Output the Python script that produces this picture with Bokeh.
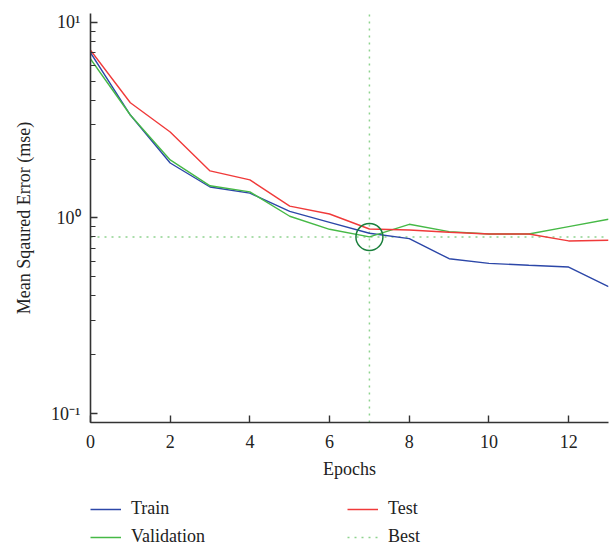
from bokeh.plotting import figure
from bokeh.layouts import column
from bokeh.models import (Range1d, Legend, LegendItem, CustomJSTickFormatter,
                          FixedTicker, LogTicker)
from bokeh.embed import file_html
from bokeh.resources import INLINE

epochs = list(range(14))
train = [7.0, 3.36, 1.91, 1.44, 1.34, 1.08, 0.95, 0.835, 0.784, 0.619, 0.586, 0.573, 0.561, 0.445]
validation = [6.5, 3.36, 1.98, 1.46, 1.36, 1.02, 0.875, 0.80, 0.928, 0.851, 0.828, 0.828, 0.903, 0.985]
test = [7.2, 3.88, 2.75, 1.74, 1.565, 1.15, 1.048, 0.878, 0.868, 0.845, 0.828, 0.828, 0.763, 0.769]
best_epoch = 7
best_value = 0.80
x_ticks = [0, 2, 4, 6, 8, 10, 12]
series_names = ["Train", "Validation", "Test", "Best"]

FONT = "Liberation Serif"

c_train = "#2c47a8"
c_val = "#46b946"
c_test = "#f03a3a"
c_best = "#8fd38f"

p = figure(width=611, height=490, y_axis_type="log",
           x_range=Range1d(0, 13), y_range=Range1d(0.09, 11.1),
           output_backend="svg", toolbar_location=None,
           min_border_left=90, min_border_right=3, min_border_top=13,
           min_border_bottom=68)
p.outline_line_color = None
p.xgrid.grid_line_color = None
p.ygrid.grid_line_color = None

p.line([0, 13], [best_value, best_value], line_color=c_best,
       line_dash="2 5", line_width=1.5)
p.line([best_epoch, best_epoch], [0.09, 11.1], line_color=c_best,
       line_dash="2 5", line_width=1.5)
p.line(epochs, train, line_color=c_train, line_width=1.4)
p.line(epochs, validation, line_color=c_val, line_width=1.4)
p.line(epochs, test, line_color=c_test, line_width=1.4)
p.scatter([best_epoch], [best_value], size=27, marker="circle",
          fill_color=None, line_color="#1a7f3c", line_width=1.5)

# axes
p.xaxis.ticker = FixedTicker(ticks=x_ticks)
p.yaxis.ticker = LogTicker(mantissas=[1], num_minor_ticks=10)
p.yaxis.formatter = CustomJSTickFormatter(code="""
const e = Math.round(Math.log10(tick));
const sup = {"-":"\u207b","0":"\u2070","1":"\u00b9","2":"\u00b2","3":"\u00b3"};
return "10" + String(e).split("").map(c => sup[c]).join("");
""")
for ax in (p.xaxis[0], p.yaxis[0]):
    ax.axis_line_color = "#333333"
    ax.axis_line_width = 1.6
    ax.major_tick_line_color = "#333333"
    ax.major_tick_line_width = 1.4
    ax.major_tick_in = 7
    ax.major_tick_out = 0
    ax.major_label_text_font = FONT
    ax.major_label_text_font_size = "18px"
    ax.major_label_text_color = "#222222"
    ax.axis_label_text_font = FONT
    ax.axis_label_text_font_size = "18px"
    ax.axis_label_text_font_style = "normal"
    ax.axis_label_text_color = "#222222"
p.xaxis.minor_tick_line_color = None
p.yaxis.minor_tick_line_color = "#333333"
p.yaxis.minor_tick_line_width = 1.2
p.yaxis.minor_tick_in = 5
p.yaxis.minor_tick_out = 0
p.xaxis.major_label_standoff = 12
p.yaxis.major_label_standoff = 10
p.xaxis.axis_label = "Epochs"
p.yaxis.axis_label = "Mean Sqaured Error (mse)"
p.xaxis.axis_label_standoff = 8
p.yaxis.axis_label_standoff = 14

# legend figure below the plot (its frame is aligned with the plot's frame)
lg = figure(width=611, height=56, output_backend="svg", toolbar_location=None,
            x_axis_location=None, y_axis_location=None,
            x_range=Range1d(0, 1), y_range=Range1d(0, 1),
            min_border_left=0, min_border_right=0, min_border_top=0,
            min_border_bottom=0)
lg.outline_line_color = None
lg.xgrid.grid_line_color = None
lg.ygrid.grid_line_color = None
styles = [dict(line_color=c_train), dict(line_color=c_val),
          dict(line_color=c_test), dict(line_color=c_best, line_dash="2 5")]
nan = float("nan")
items = []
for name, st in zip(series_names, styles):
    r = lg.line([nan], [nan], line_width=1.5, **st)
    items.append(LegendItem(label=name, renderers=[r]))
legend = Legend(items=items, ncols=2, location=(0, -1), orientation="vertical")
legend.border_line_color = None
legend.background_fill_alpha = 0
legend.label_text_font = FONT
legend.label_text_font_size = "18px"
legend.label_text_color = "#222222"
legend.glyph_width = 31
legend.glyph_height = 20
legend.label_height = 20
legend.label_standoff = 10
legend.label_width = 209
legend.spacing = 7
legend.padding = 0
legend.margin = 0
lg.add_layout(legend)

layout = column(p, lg, spacing=0)
open("out.html", "w").write(file_html(layout, INLINE))
